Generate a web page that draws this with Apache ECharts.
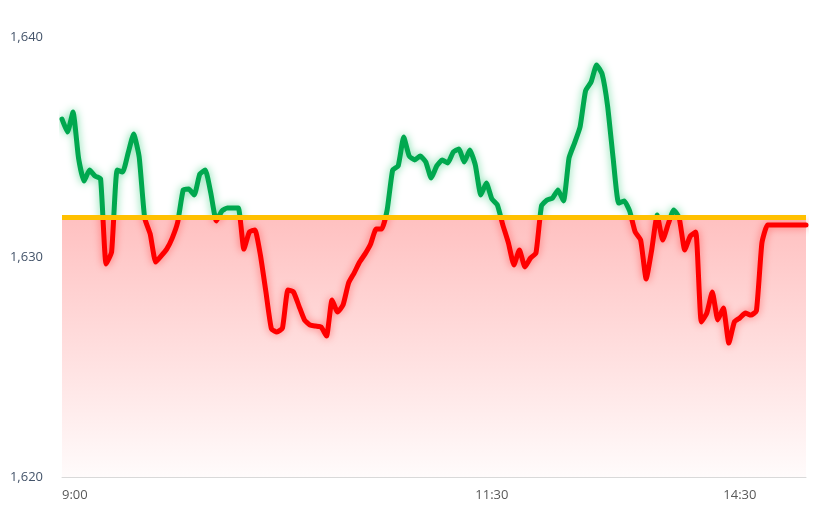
<!DOCTYPE html>
<html>
<head>
<meta charset="utf-8">
<script src="https://cdn.jsdelivr.net/npm/echarts@6/dist/echarts.min.js"></script>
<style>
  html, body { margin: 0; padding: 0; background: #ffffff; }
  #chart { width: 824px; height: 507px; }
</style>
</head>
<body>
<div id="chart"></div>
<script>
// ---- data ----
// 2-minute samples: 9:00-11:30 (morning) then 13:02-15:00 (afternoon)
const priceValues = [
  1636.27, 1635.68, 1636.59, 1634.50, 1633.45, 1633.95, 1633.68, 1633.55, 1629.68, 1630.23,
  1633.95, 1633.86, 1634.73, 1635.59, 1634.55, 1631.77, 1631.05, 1629.77, 1630.05, 1630.36,
  1630.86, 1631.59, 1633.05, 1633.09, 1632.82, 1633.77, 1633.95, 1632.91, 1631.64, 1632.09,
  1632.23, 1632.23, 1632.23, 1630.36, 1631.14, 1631.23, 1630.09, 1628.41, 1626.73, 1626.59,
  1626.77, 1628.50, 1628.41, 1627.77, 1627.14, 1626.91, 1626.86, 1626.82, 1626.41, 1628.05,
  1627.50, 1627.82, 1628.82, 1629.27, 1629.77, 1630.14, 1630.59, 1631.27, 1631.27, 1632.14,
  1633.95, 1634.14, 1635.45, 1634.59, 1634.41, 1634.59, 1634.32, 1633.59, 1634.14, 1634.41,
  1634.27, 1634.77, 1634.91, 1634.32, 1634.86, 1634.18, 1632.82, 1633.36, 1632.64, 1632.36,
  1631.45, 1630.64, 1629.64, 1630.32, 1629.55, 1629.95, 1630.18, 1632.32, 1632.59, 1632.68,
  1633.05, 1632.55, 1634.50, 1635.18, 1635.91, 1637.55, 1637.95, 1638.73, 1638.32, 1636.86,
  1634.50, 1632.45, 1632.55, 1632.09, 1631.14, 1630.77, 1629.00, 1630.32, 1631.91, 1630.77,
  1631.50, 1632.14, 1631.77, 1630.32, 1630.95, 1631.14, 1627.05, 1627.45, 1628.41, 1627.14,
  1627.68, 1626.09, 1627.05, 1627.23, 1627.45, 1627.36, 1627.55, 1630.64, 1631.45, 1631.45,
  1631.45, 1631.45, 1631.45, 1631.45, 1631.45, 1631.45
];
const baseValue = 1631.8;          // reference (previous close) level
const yTicks = [1620, 1630, 1640];
const tickLabels = ['9:00', '11:30', '14:30'];

// category labels (times)
const categories = [];
function fmt(m) { const h = Math.floor(m / 60), mm = m % 60; return h + ':' + (mm < 10 ? '0' : '') + mm; }
for (let m = 9 * 60; m <= 11 * 60 + 30; m += 2) categories.push(fmt(m));
for (let m = 13 * 60 + 2; m <= 15 * 60; m += 2) categories.push(fmt(m));

const GREEN = '#00a84f';
const RED = '#ff0000';
const CLEAR_G = 'rgba(0,168,79,0)';
const CLEAR_R = 'rgba(255,0,0,0)';

const chart = echarts.init(document.getElementById('chart'), null, { renderer: 'canvas' });
const option = {
  animation: false,
  backgroundColor: '#ffffff',
  grid: { left: 62, right: 18, top: 37, bottom: 30, containLabel: false },
  xAxis: {
    type: 'category',
    data: categories,
    boundaryGap: false,
    axisLine: { show: true, lineStyle: { color: '#d9d9d9', width: 1 } },
    axisTick: { show: false },
    splitLine: { show: false },
    axisLabel: {
      align: 'left',
      margin: 12,
      color: '#595959',
      fontFamily: 'Open Sans, Noto Sans, sans-serif',
      fontSize: 13,
      interval: function (idx, val) { return tickLabels.indexOf(val) !== -1; }
    }
  },
  yAxis: {
    type: 'value',
    min: yTicks[0],
    max: yTicks[yTicks.length - 1],
    interval: 10,
    axisLine: { show: false },
    axisTick: { show: false },
    splitLine: { show: false },
    axisLabel: {
      margin: 19,
      color: '#44546a',
      fontFamily: 'Open Sans, Noto Sans, sans-serif',
      fontSize: 13,
      formatter: function (v) { return v.toLocaleString('en-US'); }
    }
  },
  visualMap: [
    {
      show: false, type: 'piecewise', dimension: 1, seriesIndex: 1,
      pieces: [
        { lte: baseValue, color: CLEAR_G },
        { gt: baseValue, lte: 1650, color: GREEN },
        { gt: 1650, color: GREEN }
      ]
    },
    {
      show: false, type: 'piecewise', dimension: 1, seriesIndex: 2,
      pieces: [
        { lte: 1600, color: RED },
        { gt: 1600, lte: baseValue, color: RED },
        { gt: baseValue, color: CLEAR_R }
      ]
    }
  ],
  series: [
    {
      type: 'line', data: [], z: 1, silent: true,
      markArea: {
        silent: true,
        itemStyle: {
          color: {
            type: 'linear', x: 0, y: 0, x2: 0, y2: 1,
            colorStops: [
              { offset: 0, color: 'rgba(255,60,60,0.32)' },
              { offset: 1, color: 'rgba(255,60,60,0.02)' }
            ]
          }
        },
        data: [[{ yAxis: baseValue }, { yAxis: yTicks[0] }]]
      }
    },
    {
      name: 'up', type: 'line', data: priceValues, z: 3, symbol: 'none', smooth: 0.15,
      lineStyle: { width: 5, cap: 'round', join: 'round', shadowBlur: 8, shadowColor: 'rgba(0,190,90,0.55)' }
    },
    {
      name: 'down', type: 'line', data: priceValues, z: 3, symbol: 'none', smooth: 0.15,
      lineStyle: { width: 5, cap: 'round', join: 'round', shadowBlur: 8, shadowColor: 'rgba(255,40,40,0.55)' }
    },
    {
      type: 'line', data: [], z: 5, silent: true,
      markLine: {
        silent: true, symbol: 'none',
        label: { show: false },
        lineStyle: { color: '#ffc000', width: 5, type: 'solid' },
        data: [{ yAxis: baseValue }]
      }
    }
  ]
};
chart.setOption(option);
</script>
</body>
</html>
